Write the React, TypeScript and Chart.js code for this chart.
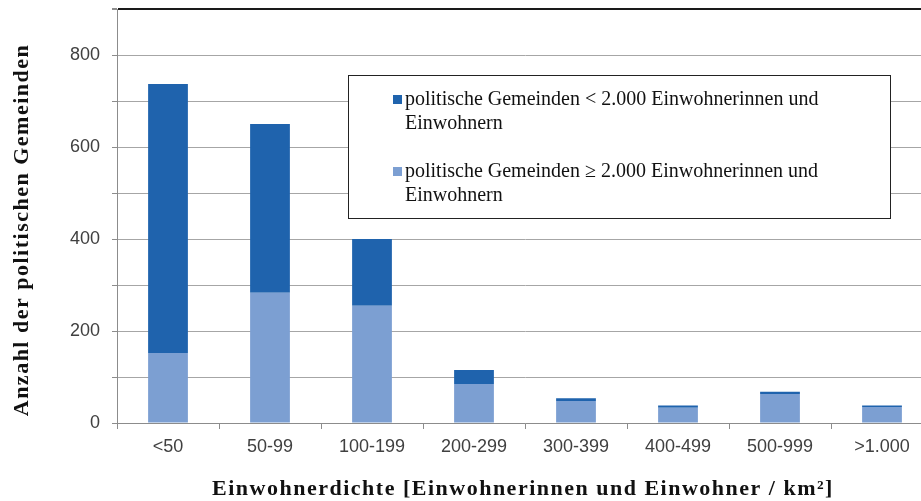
import React, { useEffect, useRef } from "react";
import { Chart, registerables } from "chart.js";

Chart.register(...registerables);

const categories = ["<50", "50-99", "100-199", "200-299", "300-399", "400-499", "500-999", ">1.000"];
// politische Gemeinden < 2.000 Einwohnerinnen und Einwohnern (top, dark)
const smallMunicipalities = [585, 367, 145, 30, 6, 5, 5, 3];
// politische Gemeinden ≥ 2.000 Einwohnerinnen und Einwohnern (bottom, light)
const largeMunicipalities = [152, 283, 255, 85, 48, 33, 63, 35];
const yTickLabels = [0, 200, 400, 600, 800];
const yMax = 900;

const smallLabel = "politische Gemeinden < 2.000 Einwohnerinnen und Einwohnern";
const largeLabel = "politische Gemeinden \u2265 2.000 Einwohnerinnen und Einwohnern";
const yTitle = "Anzahl der politischen Gemeinden";
const xTitle = "Einwohnerdichte [Einwohnerinnen und Einwohner / km\u00B2]";

const DARK = "#1f63ad";
const LIGHT = "#7c9fd2";

function wrapText(ctx: CanvasRenderingContext2D, text: string, maxWidth: number): string[] {
  const words = text.split(" ");
  const lines: string[] = [];
  let cur = "";
  for (const w of words) {
    const test = cur ? cur + " " + w : w;
    if (ctx.measureText(test).width > maxWidth && cur) {
      lines.push(cur);
      cur = w;
    } else {
      cur = test;
    }
  }
  if (cur) lines.push(cur);
  return lines;
}

const decorPlugin = {
  id: "decor",
  afterDraw(chart: any) {
    const ctx: CanvasRenderingContext2D = chart.ctx;
    const area = chart.chartArea;
    // Axis titles
    ctx.save();
    ctx.fillStyle = "#111";
    ctx.font = "bold 22px 'Liberation Serif', serif";
    (ctx as any).letterSpacing = "1.5px";
    ctx.textAlign = "center";
    ctx.textBaseline = "middle";
    ctx.save();
    ctx.translate(22, (area.top + area.bottom) / 2 + 14);
    ctx.rotate(-Math.PI / 2);
    ctx.fillText(yTitle, 0, 0);
    ctx.restore();
    ctx.fillText(xTitle, (area.left + area.right) / 2 - 2, 489);
    ctx.restore();

    // Legend box
    ctx.save();
    const bx = 348.5, by = 75.5, bw = 542, bh = 143;
    ctx.fillStyle = "#ffffff";
    ctx.fillRect(bx, by, bw, bh);
    ctx.strokeStyle = "#222";
    ctx.lineWidth = 1;
    ctx.strokeRect(bx, by, bw, bh);
    ctx.font = "20px 'Liberation Serif', serif";
    ctx.textAlign = "left";
    ctx.textBaseline = "middle";
    const items = [
      { label: chart.data.datasets[1].label, color: chart.data.datasets[1].backgroundColor },
      { label: chart.data.datasets[0].label, color: chart.data.datasets[0].backgroundColor },
    ];
    items.forEach((it, i) => {
      const y0 = 100 + i * 72;
      ctx.fillStyle = it.color;
      ctx.fillRect(393, y0 - 5, 9, 9);
      ctx.fillStyle = "#111";
      const lines = wrapText(ctx, it.label, 445);
      lines.forEach((ln, j) => ctx.fillText(ln, 405, y0 + j * 24));
    });
    ctx.restore();
  },
};

export default function App() {
  const ref = useRef<HTMLCanvasElement | null>(null);
  useEffect(() => {
    if (!ref.current) return;
    const chart = new Chart(ref.current, {
      type: "bar",
      data: {
        labels: categories,
        datasets: [
          {
            label: largeLabel,
            data: largeMunicipalities,
            backgroundColor: LIGHT,
            barPercentage: 0.39,
            categoryPercentage: 1,
          },
          {
            label: smallLabel,
            data: smallMunicipalities,
            backgroundColor: DARK,
            barPercentage: 0.39,
            categoryPercentage: 1,
          },
        ],
      },
      options: {
        responsive: false,
        animation: false,
        devicePixelRatio: 1,
        layout: { padding: { top: 9, right: 17, left: 0, bottom: 0 } },
        plugins: {
          legend: { display: false },
          tooltip: { enabled: false },
        },
        scales: {
          x: {
            stacked: true,
            afterFit: (s: any) => {
              s.height = 78;
              s.paddingLeft = 0;
              s.paddingRight = 0;
            },
            ticks: {
              font: { family: "'Liberation Sans', sans-serif", size: 18 },
              color: "#404040",
              padding: 7,
            },
            grid: {
              drawOnChartArea: false,
              tickLength: 6,
              color: "#8c8c8c",
              offset: true,
            },
            border: { color: "#8c8c8c" },
          },
          y: {
            stacked: true,
            min: 0,
            max: yMax,
            afterFit: (s: any) => {
              s.width = 117;
              s.paddingTop = 0;
              s.paddingBottom = 0;
            },
            ticks: {
              stepSize: 100,
              callback: (v: any) => (yTickLabels.includes(Number(v)) ? String(v) : ""),
              font: { family: "'Liberation Sans', sans-serif", size: 18 },
              color: "#404040",
              padding: 12,
            },
            grid: {
              color: (c: any) => (c.tick && c.tick.value === yMax ? "#1a1a1a" : "#a6a6a6"),
              lineWidth: (c: any) => (c.tick && c.tick.value === yMax ? 2 : 1),
              tickLength: 5,
              tickColor: "#8c8c8c",
            },
            border: { color: "#8c8c8c" },
          },
        },
      },
      plugins: [decorPlugin],
    });
    return () => chart.destroy();
  }, []);
  return (
    <div
      style={{
        position: "fixed",
        left: 0,
        top: 0,
        width: 921,
        height: 501,
        overflow: "hidden",
        background: "#fff",
      }}
    >
      <canvas ref={ref} width={950} height={501} style={{ width: 950, height: 501, display: "block" }} />
    </div>
  );
}
